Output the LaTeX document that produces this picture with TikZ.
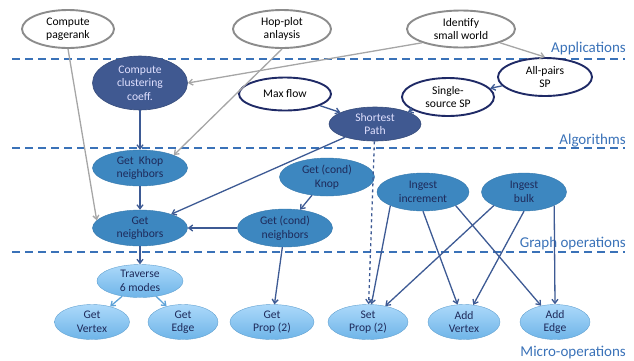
\documentclass[tikz,border=0pt]{standalone}
\usepackage{fontspec}
\setmainfont{Carlito}
\usetikzlibrary{shapes.geometric, arrows.meta, positioning}
\definecolor{EdgeGray}{RGB}{166,166,166}
\definecolor{BorderGray}{RGB}{140,140,140}
\definecolor{NavyLine}{RGB}{31,42,102}
\definecolor{DarkFill}{RGB}{64,89,145}
\definecolor{MidFill}{RGB}{61,135,192}
\definecolor{LightTop}{RGB}{172,217,250}
\definecolor{LightBottom}{RGB}{110,180,232}
\definecolor{EdgeBlue}{RGB}{61,90,148}
\definecolor{EdgeLight}{RGB}{95,163,216}
\definecolor{LayerBlue}{RGB}{58,114,184}
\definecolor{TextNavy}{RGB}{30,42,90}

\tikzset{
  >={Straight Barb[length=4pt, width=6pt]},
  appnode/.style={ellipse, draw=BorderGray, line width=1.9pt, fill=white, inner sep=0pt, align=center},
  algnode/.style={ellipse, draw=NavyLine, line width=1.9pt, fill=white, inner sep=0pt, align=center},
  darknode/.style={ellipse, draw=DarkFill!85!black, line width=0.6pt, fill=DarkFill, text=white!88!blue, inner sep=0pt, align=center},
  opnode/.style={ellipse, draw=MidFill!90!black, line width=0.4pt, fill=MidFill, text=TextNavy, inner sep=0pt, align=center},
  micronode/.style={ellipse, draw=LightBottom!90!black, line width=0.4pt, top color=LightTop, bottom color=LightBottom, text=TextNavy, inner sep=0pt, align=center},
  grayedge/.style={->, EdgeGray, line width=1.3pt},
  blueedge/.style={->, EdgeBlue, line width=1.3pt},
  layerline/.style={LayerBlue, line width=1.4pt, dash pattern=on 8pt off 5pt},
  layerlabel/.style={text=LayerBlue, font=\fontsize{15}{17}\selectfont, inner sep=0pt}
}

\begin{document}
\begin{tikzpicture}[x=1pt, y=-1pt, font=\fontsize{11.6}{13.5}\selectfont]
    \useasboundingbox (0,0) rectangle (634,360);

    % layers
    \draw[layerline] (12,59) -- (625,59);
    \draw[layerline] (12,148) -- (625,148);
    \draw[layerline] (12,252) -- (625,252);
    \node[layerlabel, anchor=base east] (applab) at (626,52) {Applications};
    \node[layerlabel, anchor=base east] (alglab) at (626,144) {Algorithms};
    \node[layerlabel, anchor=base east] (graphlab) at (626,247) {Graph operations};
    \node[layerlabel, anchor=base east] (microlab) at (626,356) {Micro-operations};

    % applications
    \node[appnode, minimum width=92pt, minimum height=38pt] (pagerank) at (68,29) {Compute\\pagerank};
    \node[appnode, minimum width=98pt, minimum height=38pt] (hopplot) at (282,29) {Hop-plot\\anlaysis};
    \node[appnode, minimum width=108pt, minimum height=37pt] (smallworld) at (461,29) {Identify\\small world};

    % algorithms
    \node[darknode, minimum width=95pt, minimum height=54pt] (clustering) at (140,83) {Compute\\clustering\\coeff.};
    \node[algnode, minimum width=92pt, minimum height=33pt] (maxflow) at (285,94) {Max flow};
    \node[algnode, minimum width=94pt, minimum height=38pt] (allpairs) at (545,77) {All-pairs\\SP};
    \node[algnode, minimum width=92pt, minimum height=38pt] (singlesource) at (448,97) {Single-\\source SP};
    \node[darknode, minimum width=92pt, minimum height=34pt] (shortest) at (375,124) {Shortest\\Path};

    % graph operations
    \node[opnode, minimum width=95pt, minimum height=36pt] (getkhop) at (140,168) {Get\ \ Khop\\neighbors};
    \node[opnode, minimum width=95pt, minimum height=38pt] (condknop) at (327,177) {Get (cond)\\Knop};
    \node[opnode, minimum width=92pt, minimum height=38pt] (increment) at (423,192) {Ingest\\increment};
    \node[opnode, minimum width=85pt, minimum height=38pt] (bulk) at (524,192) {Ingest\\bulk};
    \node[opnode, minimum width=95pt, minimum height=36pt] (getneighbors) at (140,228) {Get\\neighbors};
    \node[opnode, minimum width=95pt, minimum height=38pt] (condneighbors) at (285,228) {Get (cond)\\neighbors};

    % micro-operations
    \node[micronode, minimum width=86pt, minimum height=33pt] (traverse) at (140,281) {Traverse\\6 modes};
    \node[micronode, minimum width=75pt, minimum height=35pt] (getvertex) at (92,322) {Get\\Vertex};
    \node[micronode, minimum width=70pt, minimum height=35pt] (getedge) at (183,322) {Get\\Edge};
    \node[micronode, minimum width=84pt, minimum height=35pt] (getprop) at (272,322) {Get\\Prop (2)};
    \node[micronode, minimum width=80pt, minimum height=35pt] (setprop) at (368,322) {Set\\Prop (2)};
    \node[micronode, minimum width=72pt, minimum height=35pt] (addvertex) at (464,322) {Add\\Vertex};
    \node[micronode, minimum width=70pt, minimum height=35pt] (addedge) at (555,322) {Add\\Edge};

    \draw[grayedge] (pagerank.south) -- (getneighbors.170);
    \draw[grayedge] (hopplot.south) -- (getkhop.north east);
    \draw[grayedge] (smallworld.south west) -- (clustering.east);
    \draw[grayedge] (smallworld.south east) -- (allpairs.north);

    \draw[blueedge] (allpairs) -- (singlesource);
    \draw[blueedge] (singlesource) -- (shortest);
    \draw[blueedge] (maxflow) -- (shortest);
    \draw[blueedge] (clustering) -- (getkhop);
    \draw[blueedge] (shortest) -- (getneighbors);
    \draw[blueedge, dashed] (shortest) -- (setprop);
    \draw[blueedge] (getkhop) -- (getneighbors);
    \draw[blueedge] (condknop) -- (condneighbors);
    \draw[blueedge] (condneighbors) -- (getneighbors);
    \draw[blueedge] (getneighbors) -- (traverse);
    \draw[blueedge] (condneighbors) -- (getprop);
    \draw[->, EdgeLight, line width=1.3pt] (traverse) -- (getvertex);
    \draw[->, EdgeLight, line width=1.3pt] (traverse) -- (getedge);

    \draw[blueedge] (increment.south west) -- (setprop);
    \draw[blueedge] (increment.south) -- (addvertex);
    \draw[blueedge] (increment.south east) -- (addedge);
    \draw[blueedge] (bulk.south west) -- (setprop);
    \draw[blueedge] (bulk.south) -- (addvertex);
    \draw[blueedge] (bulk.south east) -- (addedge.north);
  \end{tikzpicture}
\end{document}
